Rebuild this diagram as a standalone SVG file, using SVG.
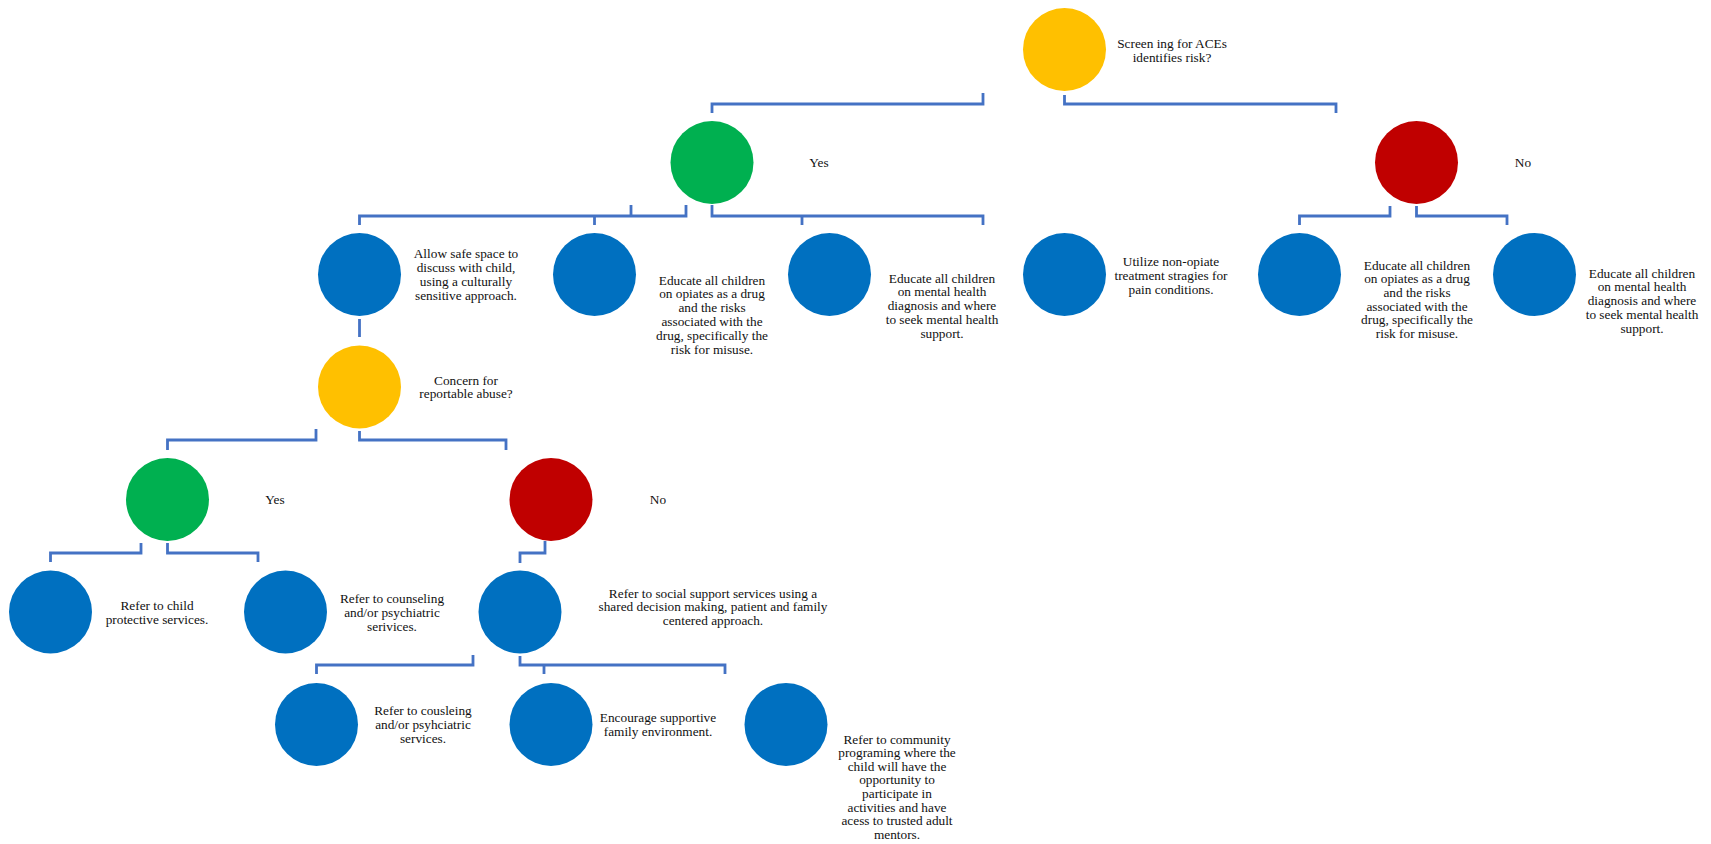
<svg xmlns="http://www.w3.org/2000/svg" width="1711" height="844" viewBox="0 0 1711 844">
<style>
.c{stroke:none}
.y{fill:#FFC000}.g{fill:#00B050}.r{fill:#C00000}.b{fill:#0070C0}
.t{font-family:"Liberation Serif","Times New Roman",serif;font-size:13.3px;fill:#111;text-anchor:middle}
.k{fill:none;stroke:#4472C4;stroke-width:2.8;stroke-linejoin:miter;stroke-linecap:butt}
</style>
<rect width="1711" height="844" fill="#fff"/>
<g id="connectors">
<polyline class="k" points="983,93 983,104 712,104 712,113"/>
<polyline class="k" points="1064.5,95 1064.5,104 1336,104 1336,113"/>
<polyline class="k" points="686,205 686,216 359.5,216 359.5,225"/>
<line class="k" x1="594.5" y1="216" x2="594.5" y2="225"/>
<line class="k" x1="631" y1="205" x2="631" y2="216"/>
<polyline class="k" points="712,205 712,216 983,216 983,225"/>
<line class="k" x1="802" y1="216" x2="802" y2="225"/>
<polyline class="k" points="1390,206 1390,216 1299.5,216 1299.5,225"/>
<polyline class="k" points="1416.5,206 1416.5,216 1507,216 1507,225"/>
<line class="k" x1="359.5" y1="319" x2="359.5" y2="337"/>
<polyline class="k" points="316,429 316,440 167.5,440 167.5,450"/>
<polyline class="k" points="359.5,431 359.5,440 506,440 506,450"/>
<polyline class="k" points="141,543 141,553 50.5,553 50.5,562"/>
<polyline class="k" points="167.5,543 167.5,553 258,553 258,562"/>
<polyline class="k" points="545,541 545,553 520,553 520,563"/>
<polyline class="k" points="473,655 473,665 316.5,665 316.5,674"/>
<polyline class="k" points="520,656 520,665 725,665 725,674"/>
<line class="k" x1="544" y1="665" x2="544" y2="674"/>
</g>
<g id="n-screen"><circle class="c y" cx="1064.5" cy="49.5" r="41.5"/><text class="t" x="1172" y="47.5">Screen ing for ACEs</text><text class="t" x="1172" y="61.5">identifies risk?</text></g>
<g id="n-yes1"><circle class="c g" cx="712" cy="162.5" r="41.5"/><text class="t" x="819" y="166.5">Yes</text></g>
<g id="n-no1"><circle class="c r" cx="1416.5" cy="162.5" r="41.5"/><text class="t" x="1523" y="166.5">No</text></g>
<g id="n-allow"><circle class="c b" cx="359.5" cy="274.5" r="41.5"/>
<text class="t" x="466" y="257.5">Allow safe space to</text><text class="t" x="466" y="271.5">discuss with child,</text><text class="t" x="466" y="285.5">using a culturally</text><text class="t" x="466" y="299.5">sensitive approach.</text></g>
<g id="n-opiates1"><circle class="c b" cx="594.5" cy="274.5" r="41.5"/>
<text class="t" x="712" y="284.5">Educate all children</text><text class="t" x="712" y="298.3">on opiates as a drug</text><text class="t" x="712" y="312.1">and the risks</text><text class="t" x="712" y="325.9">associated with the</text><text class="t" x="712" y="339.7">drug, specifically the</text><text class="t" x="712" y="353.5">risk for misuse.</text></g>
<g id="n-mental1"><circle class="c b" cx="829.5" cy="274.5" r="41.5"/>
<text class="t" x="942" y="282.5">Educate all children</text><text class="t" x="942" y="296.3">on mental health</text><text class="t" x="942" y="310.1">diagnosis and where</text><text class="t" x="942" y="323.9">to seek mental health</text><text class="t" x="942" y="337.7">support.</text></g>
<g id="n-utilize"><circle class="c b" cx="1064.5" cy="274.5" r="41.5"/>
<text class="t" x="1171" y="265.5">Utilize non-opiate</text><text class="t" x="1171" y="279.5">treatment stragies for</text><text class="t" x="1171" y="293.5">pain conditions.</text></g>
<g id="n-opiates2"><circle class="c b" cx="1299.5" cy="274.5" r="41.5"/>
<text class="t" x="1417" y="269.5">Educate all children</text><text class="t" x="1417" y="283.2">on opiates as a drug</text><text class="t" x="1417" y="296.9">and the risks</text><text class="t" x="1417" y="310.6">associated with the</text><text class="t" x="1417" y="324.3">drug, specifically the</text><text class="t" x="1417" y="338">risk for misuse.</text></g>
<g id="n-mental2"><circle class="c b" cx="1534.5" cy="274.5" r="41.5"/>
<text class="t" x="1642" y="277.5">Educate all children</text><text class="t" x="1642" y="291.3">on mental health</text><text class="t" x="1642" y="305.1">diagnosis and where</text><text class="t" x="1642" y="318.9">to seek mental health</text><text class="t" x="1642" y="332.7">support.</text></g>
<g id="n-concern"><circle class="c y" cx="359.5" cy="387" r="41.5"/>
<text class="t" x="466" y="384.5">Concern for</text><text class="t" x="466" y="398">reportable abuse?</text></g>
<g id="n-yes2"><circle class="c g" cx="167.5" cy="499.5" r="41.5"/><text class="t" x="275" y="503.5">Yes</text></g>
<g id="n-no2"><circle class="c r" cx="551" cy="499.5" r="41.5"/><text class="t" x="658" y="503.5">No</text></g>
<g id="n-cps"><circle class="c b" cx="50.5" cy="612" r="41.5"/>
<text class="t" x="157" y="609.5">Refer to child</text><text class="t" x="157" y="623.5">protective services.</text></g>
<g id="n-counsel"><circle class="c b" cx="285.5" cy="612" r="41.5"/>
<text class="t" x="392" y="602.5">Refer to counseling</text><text class="t" x="392" y="616.5">and/or psychiatric</text><text class="t" x="392" y="630.5">serivices.</text></g>
<g id="n-social"><circle class="c b" cx="520" cy="612" r="41.5"/>
<text class="t" x="713" y="597.5">Refer to social support services using a</text><text class="t" x="713" y="611">shared decision making, patient and family</text><text class="t" x="713" y="624.5">centered approach.</text></g>
<g id="n-cousleing"><circle class="c b" cx="316.5" cy="724.5" r="41.5"/>
<text class="t" x="423" y="714.5">Refer to cousleing</text><text class="t" x="423" y="728.5">and/or psyhciatric</text><text class="t" x="423" y="742.5">services.</text></g>
<g id="n-family"><circle class="c b" cx="551" cy="724.5" r="41.5"/>
<text class="t" x="658" y="721.5">Encourage supportive</text><text class="t" x="658" y="735.5">family environment.</text></g>
<g id="n-community"><circle class="c b" cx="786" cy="724.5" r="41.5"/>
<text class="t" x="897" y="743.5">Refer to community</text><text class="t" x="897" y="757.1">programing where the</text><text class="t" x="897" y="770.7">child will have the</text><text class="t" x="897" y="784.3">opportunity to</text><text class="t" x="897" y="797.9">participate in</text><text class="t" x="897" y="811.5">activities and have</text><text class="t" x="897" y="825.1">acess to trusted adult</text><text class="t" x="897" y="838.7">mentors.</text></g>
</svg>
